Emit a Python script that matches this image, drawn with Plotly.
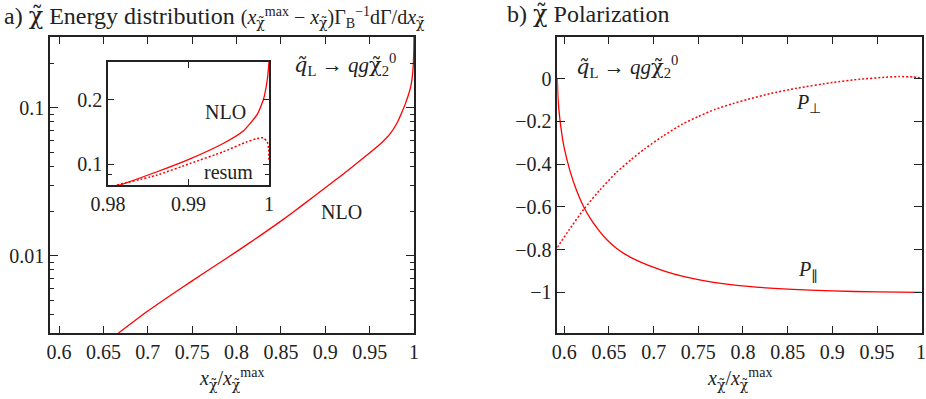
import plotly.graph_objects as go
import math

# a) NLO energy distribution (log scale)
nlo_x = [0.667, 0.70, 0.725, 0.75, 0.775, 0.80, 0.825, 0.85, 0.875, 0.90, 0.92,
         0.94, 0.955, 0.965, 0.973, 0.981, 0.986, 0.9902, 0.9943, 0.9968, 0.9985,
         0.9993, 0.9998, 1.0]
nlo_y = [0.0030, 0.00422, 0.00536, 0.00675, 0.00848, 0.01064, 0.01344, 0.0171, 0.0221,
         0.0287, 0.0355, 0.0442, 0.0523, 0.0591, 0.0664, 0.0790, 0.092, 0.106, 0.125,
         0.143, 0.170, 0.200, 0.250, 0.30]

# inset: resummed curve
resum_x = [0.9811, 0.986, 0.9902, 0.9943, 0.9972, 0.99846, 0.99929, 0.9998, 0.99995, 1.0]
resum_y = [0.080, 0.0888, 0.1008, 0.1143, 0.127, 0.1316, 0.1329, 0.127, 0.118, 0.104]

# b) polarization
ppar_x = [0.5922, 0.593, 0.594, 0.5955, 0.5975, 0.600, 0.6063, 0.614, 0.6222, 0.630,
          0.640, 0.648, 0.658, 0.668, 0.680, 0.695, 0.712, 0.732, 0.750, 0.769, 0.806,
          0.85, 0.90, 0.95, 1.0]
ppar_y = [0.0, -0.09, -0.145, -0.205, -0.265, -0.325, -0.43, -0.526, -0.604, -0.66,
          -0.717, -0.755, -0.792, -0.821, -0.848, -0.875, -0.900, -0.924, -0.940, -0.954,
          -0.972, -0.985, -0.993, -0.998, -1.0]

pperp_x = [0.5922, 0.605, 0.6222, 0.64, 0.658, 0.675, 0.69, 0.71, 0.732, 0.75, 0.769,
           0.79, 0.806, 0.83, 0.86, 0.90, 0.93, 0.96, 0.975, 0.99, 1.0]
pperp_y = [-0.789, -0.71, -0.609, -0.52, -0.44, -0.378, -0.328, -0.27, -0.213, -0.177,
           -0.143, -0.115, -0.096, -0.07, -0.045, -0.018, -0.003, 0.007, 0.01, 0.008, 0.003]

xticks = [0.6, 0.65, 0.7, 0.75, 0.8, 0.85, 0.9, 0.95, 1.0]
xticktext = ["0.6", "0.65", "0.7", "0.75", "0.8", "0.85", "0.9", "0.95", "1"]
pol_ticks = [0, -0.2, -0.4, -0.6, -0.8, -1]
pol_ticktext = ["0", "−0.2", "−0.4", "−0.6", "−0.8", "−1"]
log_minor = [0.003, 0.004, 0.005, 0.006, 0.007, 0.008, 0.009,
             0.02, 0.03, 0.04, 0.05, 0.06, 0.07, 0.08, 0.09, 0.2, 0.3]

RED = "#ff0000"
INK = "#222222"
FONT = "Liberation Serif"
W, H = 926, 399

def px_x(p):
    return p / W

def px_y(p):
    return 1 - p / H

solid = dict(color=RED, width=1.3, shape="spline", smoothing=0.5)
dotted = dict(color=RED, width=1.5, dash="2px,2px", shape="spline", smoothing=0.5)

fig = go.Figure()
fig.add_scatter(x=nlo_x, y=nlo_y, mode="lines", line=solid, xaxis="x", yaxis="y", showlegend=False)
fig.add_scatter(x=nlo_x, y=nlo_y, mode="lines", line=solid, xaxis="x3", yaxis="y3", showlegend=False)
fig.add_scatter(x=resum_x, y=resum_y, mode="lines", line=dotted, xaxis="x3", yaxis="y3", showlegend=False)
fig.add_scatter(x=ppar_x, y=ppar_y, mode="lines", line=solid, xaxis="x2", yaxis="y2", showlegend=False)
fig.add_scatter(x=pperp_x, y=pperp_y, mode="lines", line=dotted, xaxis="x2", yaxis="y2", showlegend=False)

frame = dict(showline=True, linecolor=INK, linewidth=1.5, mirror="ticks", ticks="inside",
             tickcolor=INK, tickwidth=1, showgrid=False, zeroline=False, automargin=False,
             tickfont=dict(family=FONT, size=20, color=INK))
ydom = [px_y(333), px_y(37)]

fig.update_layout(
    width=W, height=H, margin=dict(l=0, r=0, t=0, b=0, autoexpand=False),
    paper_bgcolor="white", plot_bgcolor="white",
    xaxis=dict(frame, domain=[px_x(50), px_x(414)], range=[0.5898, 1.0], anchor="y",
               tickvals=xticks, ticktext=xticktext, ticklen=7),
    yaxis=dict(frame, domain=ydom, type="log", anchor="x",
               range=[math.log10(0.003), math.log10(0.3)],
               tickvals=[0.01, 0.1], ticktext=["0.01", "0.1"], ticklen=8,
               minor=dict(tickmode="array", tickvals=log_minor, ticks="inside", ticklen=4,
                          tickcolor=INK, showgrid=False)),
    # last label "1" of the right panel is drawn as an annotation so it is not dropped at the edge
    xaxis2=dict(frame, domain=[px_x(557.3), px_x(921.7)], range=[0.5922, 1.0], anchor="y2",
                tickvals=xticks, ticktext=xticktext[:-1] + [""], ticklen=7),
    yaxis2=dict(frame, domain=ydom, range=[-1.19, 0.195], anchor="x2",
                tickvals=pol_ticks, ticktext=pol_ticktext, ticklen=8),
    xaxis3=dict(frame, domain=[px_x(108), px_x(269)], range=[0.98, 1.0], anchor="y3",
                tickvals=[0.98, 0.99, 1.0], ticktext=["0.98", "0.99", "1"], ticklen=6),
    yaxis3=dict(frame, domain=[px_y(185), px_y(62)], type="log", anchor="x3",
                range=[math.log10(0.08), math.log10(0.3)],
                tickvals=[0.1, 0.2], ticktext=["0.1", "0.2"], ticklen=6,
                minor=dict(tickmode="array", tickvals=[0.09, 0.3], ticks="inside", ticklen=4,
                           tickcolor=INK, showgrid=False)),
)

chi = '<span style="font-family:DejaVu Serif">χ̃</span>'
qt = '<span style="font-family:DejaVu Serif"><i>q̃</i></span>'
small = '<span style="font-size:20px">{}</span>'
xlab = "<i>x</i><sub>" + chi + "</sub>/<i>x</i><sub>" + chi + "</sub><sup>max</sup>"
proc = qt + "<sub>L</sub> → <i>qg</i>" + chi + "<sub>2</sub><sup>0</sup>"
ann = [
    (2, 16, "left", 24, "a) " + chi + " Energy distribution " +
     small.format("(<i>x</i><sub>" + chi + "</sub><sup>max</sup> − <i>x</i><sub>" + chi +
                  "</sub>)Γ<sub>B</sub><sup>−1</sup>dΓ/d<i>x</i><sub>" + chi + "</sub>")),
    (505, 14, "left", 24, "b) " + chi + " Polarization"),
    (232, 379, "center", 20, xlab),
    (739.5, 379, "center", 20, xlab),
    (345, 65, "center", 21, proc),
    (627, 66, "center", 21, proc),
    (341, 212, "center", 20, "NLO"),
    (225, 112, "center", 20, "NLO"),
    (228, 172, "center", 20, "resum"),
    (808, 103, "center", 20, "<i>P</i><sub>⊥</sub>"),
    (808, 270, "center", 20, "<i>P</i><sub>∥</sub>"),
    (920.5, 352, "center", 20, xticktext[-1]),
]
for x, y, anchor, size, text in ann:
    fig.add_annotation(x=px_x(x), y=px_y(y), xref="paper", yref="paper", text=text,
                       showarrow=False, xanchor=anchor, yanchor="middle",
                       font=dict(family=FONT, size=size, color=INK))

# drop the browser's default page margin so the figure sits at the window's corner
fig.write_html("out.html", config={"displayModeBar": False},
               post_script="document.body.style.margin='0';")
